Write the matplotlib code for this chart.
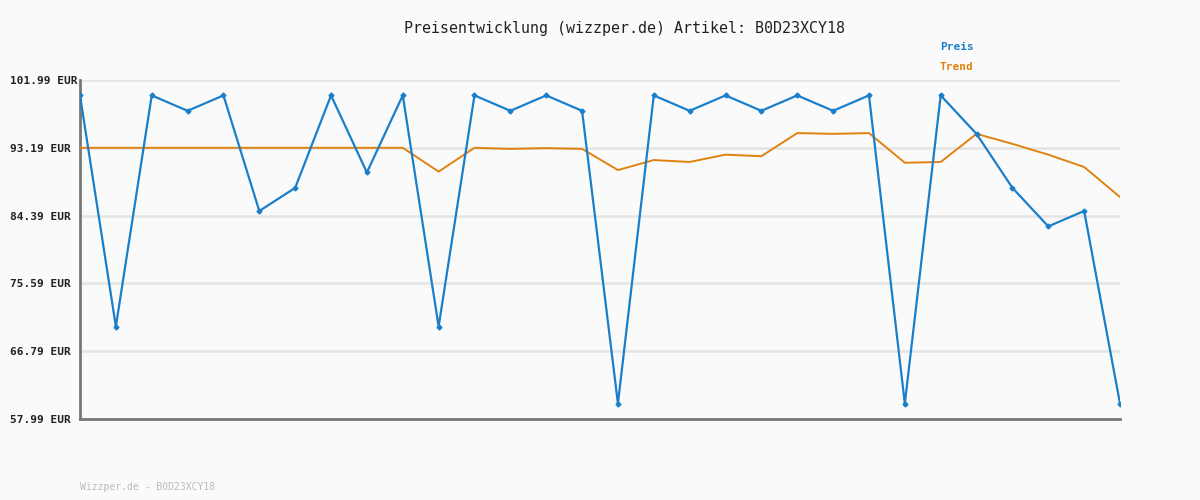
import numpy as np
import matplotlib
matplotlib.use('Agg')
import matplotlib.pyplot as plt

preis = [99.99, 69.99, 99.99, 97.99, 99.99, 84.99, 87.99, 99.99, 89.99, 99.99,
         69.99, 99.99, 97.99, 99.99, 97.99, 59.99, 99.99, 97.99, 99.99, 97.99,
         99.99, 97.99, 99.99, 59.99, 99.99, 94.99, 87.99, 82.99, 84.99, 59.99]
trend = [93.19, 93.19, 93.19, 93.19, 93.19, 93.19, 93.19, 93.19, 93.19, 93.19,
         90.1, 93.19, 93.05, 93.15, 93.05, 90.3, 91.6, 91.35, 92.3, 92.1,
         95.1, 95.0, 95.1, 91.25, 91.35, 95.0, 93.7, 92.3, 90.7, 86.8]
ticks = [57.99, 66.79, 75.59, 84.39, 93.19, 101.99]

bg = '#fafafa'
blue = '#1a7fcb'
orange = '#e0820f'
mono = 'DejaVu Sans Mono'

fig = plt.figure(figsize=(12, 5), dpi=100, facecolor=bg)
ax = fig.add_axes([80/1200, 81/500, 1040/1200, 339/500], facecolor=bg)

x = np.arange(len(preis))
ax.plot(x, trend, color=orange, lw=1.4, zorder=3)
ax.plot(x, preis, color=blue, lw=1.6, marker='D', markersize=2.5, zorder=4)

ax.set_xlim(0, len(preis) - 1)
ax.set_ylim(ticks[0], ticks[-1])
ax.set_yticks(ticks)
ax.set_yticklabels(['%.2f EUR' % t for t in ticks], fontfamily=mono,
                   fontweight='bold', fontsize=8, color='#222222')
for lab in ax.get_yticklabels():
    lab.set_horizontalalignment('left')
ax.set_xticks([])
# labels start at x=10px, axis at 80px -> 70px = 50.4pt
ax.tick_params(axis='y', length=0, pad=50.4)
ax.yaxis.grid(True, color='#e4e4e4', lw=1.8)
ax.set_axisbelow(True)
for s in ['top', 'right']:
    ax.spines[s].set_visible(False)
for s in ['left', 'bottom']:
    ax.spines[s].set_color('#777777')
    ax.spines[s].set_linewidth(2)

fig.text(624/1200, 1 - 28/500, 'Preisentwicklung (wizzper.de) Artikel: B0D23XCY18',
         ha='center', va='center', fontfamily=mono, fontsize=10.8, color='#222222')
fig.text(940/1200, 1 - 47/500, 'Preis', ha='left', va='center', fontfamily=mono,
         fontweight='bold', fontsize=8, color=blue)
fig.text(940/1200, 1 - 67/500, 'Trend', ha='left', va='center', fontfamily=mono,
         fontweight='bold', fontsize=8, color=orange)
fig.text(80/1200, 1 - 487/500, 'Wizzper.de - B0D23XCY18', ha='left', va='center',
         fontfamily=mono, fontsize=7, color='#bbbbbb')

fig.savefig('out.png', dpi=100, facecolor=bg)
